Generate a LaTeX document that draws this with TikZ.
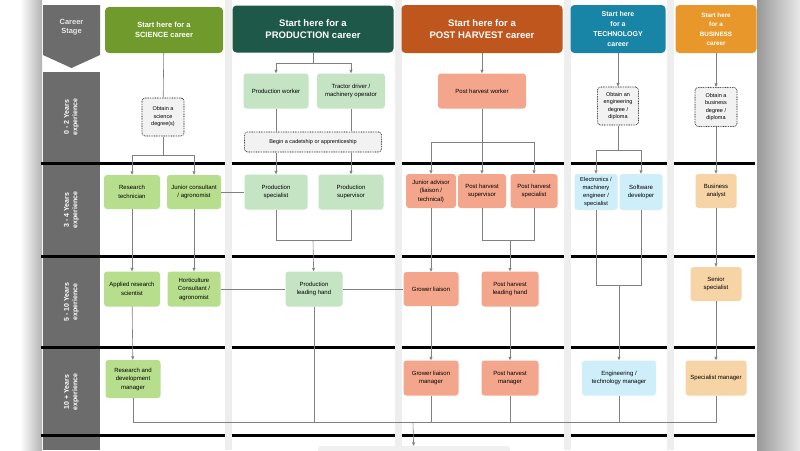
\documentclass[tikz,border=0pt]{standalone}
\usepackage{xcolor}
\usepackage{fontspec}
\setmainfont{Liberation Sans}
\usepackage{tikz}
\usetikzlibrary{arrows.meta}
\definecolor{scicolor}{RGB}{112,154,44}
\definecolor{prodcolor}{RGB}{30,88,72}
\definecolor{phcolor}{RGB}{190,86,30}
\definecolor{techcolor}{RGB}{24,132,166}
\definecolor{buscolor}{RGB}{232,152,42}
\definecolor{scifill}{RGB}{182,222,140}
\definecolor{prodfill}{RGB}{196,228,196}
\definecolor{phfill}{RGB}{244,166,140}
\definecolor{techfill}{RGB}{206,238,250}
\definecolor{busfill}{RGB}{246,212,166}
\definecolor{stagegray}{RGB}{108,108,108}
\definecolor{linegray}{RGB}{128,128,128}
\definecolor{gapgray}{RGB}{238,238,238}

\begin{document}
\begin{tikzpicture}[x=1pt, y=-1pt,
        head/.style={rounded corners=4pt, text=white, font=\bfseries, align=center, inner sep=0pt},
        job/.style={rounded corners=3pt, align=center, inner sep=0pt, font=\fontsize{6}{8.5}\selectfont},
        study/.style={job, draw=black!75, line width=1.1pt, dash pattern=on 0pt off 1.7pt, line cap=round, fill=gray!10, font=\fontsize{5.5}{7.5}\selectfont},
        link/.style={draw=linegray, line width=0.6pt},
        go/.style={link, -{Triangle[length=3.5pt,width=3pt]}},
        band/.style={line width=3pt},
        stage/.style={rotate=90, text=white, font=\fontsize{7}{8.5}\selectfont\bfseries, align=center}]
        \useasboundingbox (0,0) rectangle (800,450);
        % page and its shadow
        \fill[white] (0,0) rectangle (800,450);
        \shade[left color=white, right color=gray!60] (20,0) rectangle (42,450);
        \shade[left color=gray!80, right color=gray!18] (757,0) rectangle (800,450);
        \foreach \gx in {225,395,564,667}
            \fill[gapgray] (\gx,0) rectangle (\gx+6.5,450);

        % career stage column
        \fill[stagegray] (43,5) -- (100,5) -- (100,55) -- (71.5,68) -- (43,55) -- cycle;
        \node[text=gray!20, font=\fontsize{7.5}{9}\selectfont\bfseries, align=center] (stagehead) at (71.5,27) {Career\\Stage};
        \fill[stagegray] (43,72) rectangle (100,163);
        \fill[stagegray] (43,163) rectangle (100,256);
        \fill[stagegray] (43,256) rectangle (100,347);
        \fill[stagegray] (43,347) rectangle (100,435);
        \fill[stagegray] (43,435) rectangle (100,450);
        \node[stage] (st1) at (71.5,117) {0 - 2 Years\\experience};
        \node[stage] (st2) at (71.5,210) {3 - 4 Years\\experience};
        \node[stage] (st3) at (71.5,302) {5 - 10 Years\\experience};
        \node[stage] (st4) at (71.5,392) {10 + Years\\experience};

        \foreach \by in {163,256,347,435} {
            \draw[band] (41,\by) -- (225,\by);
            \draw[band] (231.5,\by) -- (395,\by);
            \draw[band] (401.5,\by) -- (564,\by);
            \draw[band] (570.5,\by) -- (667,\by);
            \draw[band] (673.5,\by) -- (755,\by);
        }

        % headers
        \node[head, fill=scicolor, minimum width=118, minimum height=46, font=\fontsize{7.5}{10}\selectfont\bfseries] (hsci) at (164,30) {Start here for a\\SCIENCE career};
        \node[head, fill=prodcolor, minimum width=161, minimum height=47, font=\fontsize{9.5}{12.5}\selectfont\bfseries] (hprod) at (313,29) {Start here for a\\PRODUCTION career};
        \node[head, fill=phcolor, minimum width=161, minimum height=48, font=\fontsize{9.5}{12.5}\selectfont\bfseries] (hph) at (482,29) {Start here for a\\POST HARVEST career};
        \node[head, fill=techcolor, minimum width=95, minimum height=48, font=\fontsize{7}{10}\selectfont\bfseries] (htech) at (618,29) {Start here\\for a\\TECHNOLOGY\\career};
        \node[head, fill=buscolor, minimum width=81, minimum height=48, font=\fontsize{6.3}{9.5}\selectfont\bfseries] (hbus) at (716,29) {Start here\\for a\\BUSINESS\\career};

        % science
        \node[study, minimum width=42, minimum height=38] (scideg) at (163,117) {Obtain a\\science\\degree(s)};
        \node[job, fill=scifill, minimum width=56, minimum height=34] (restech) at (132,192) {Research\\technician};
        \node[job, fill=scifill, minimum width=54, minimum height=34] (juncons) at (194,192) {Junior consultant\\/ agronomist};
        \node[job, fill=scifill, minimum width=56, minimum height=35] (appsci) at (132,289) {Applied research\\scientist};
        \node[job, fill=scifill, minimum width=53, minimum height=35] (hort) at (194,289) {Horticulture\\Consultant /\\agronomist};
        \node[job, fill=scifill, minimum width=55, minimum height=38] (rnd) at (133,379) {Research and\\development\\manager};

        % production
        \node[job, fill=prodfill, minimum width=65, minimum height=35] (prodworker) at (276,91) {Production worker};
        \node[job, fill=prodfill, minimum width=68, minimum height=35] (tractor) at (351,91) {Tractor driver /\\machinery operator};
        \node[study, minimum width=137, minimum height=20] (cadet) at (313,142) {Begin a cadetship or apprenticeship};
        \node[job, fill=prodfill, minimum width=63, minimum height=35] (prodspec) at (276,192) {Production\\specialist};
        \node[job, fill=prodfill, minimum width=65, minimum height=35] (prodsup) at (351,192) {Production\\supervisor};
        \node[job, fill=prodfill, minimum width=57, minimum height=35] (prodlead) at (314,289) {Production\\leading hand};

        % post harvest
        \node[job, fill=phfill, minimum width=88, minimum height=35] (phworker) at (482,91) {Post harvest worker};
        \node[job, fill=phfill, minimum width=50, minimum height=34] (junadv) at (431,191) {Junior advisor\\(liaison /\\technical)};
        \node[job, fill=phfill, minimum width=48, minimum height=34] (phsup) at (482,191) {Post harvest\\supervisor};
        \node[job, fill=phfill, minimum width=47, minimum height=34] (phspec) at (534,191) {Post harvest\\specialist};
        \node[job, fill=phfill, minimum width=55, minimum height=34] (grower) at (431,289) {Grower liaison};
        \node[job, fill=phfill, minimum width=57, minimum height=35] (phlead) at (510,289) {Post harvest\\leading hand};
        \node[job, fill=phfill, minimum width=55, minimum height=35] (growermgr) at (431,378) {Grower liaison\\manager};
        \node[job, fill=phfill, minimum width=57, minimum height=35] (phmgr) at (510,378) {Post harvest\\manager};

        % technology
        \node[study, minimum width=41, minimum height=38] (techdeg) at (618,106) {Obtain an\\engineering\\degree /\\diploma};
        \node[job, fill=techfill, minimum width=43, minimum height=36, font=\fontsize{5.8}{8}\selectfont] (elec) at (596,192) {Electronics /\\machinery\\engineer /\\specialist};
        \node[job, fill=techfill, minimum width=43, minimum height=36] (soft) at (641,192) {Software\\developer};
        \node[job, fill=techfill, minimum width=74, minimum height=35] (techmgr) at (619,378) {Engineering /\\technology manager};

        % business
        \node[study, minimum width=42, minimum height=39] (busdeg) at (716,107) {Obtain a\\business\\degree /\\diploma};
        \node[job, fill=busfill, minimum width=41, minimum height=34] (busan) at (716,191) {Business\\analyst};
        \node[job, fill=busfill, minimum width=51, minimum height=34] (senspec) at (716,284) {Senior\\specialist};
        \node[job, fill=busfill, minimum width=61, minimum height=35] (specmgr) at (716,378) {Specialist manager};

        \node[fill=gray!12, rounded corners=3pt, minimum width=192, minimum height=30] (next) at (414,461) {};

        \coordinate (scisplit) at (163,155);
        \coordinate (prodsplit) at (313,63);
        \coordinate (prodjoin) at (313,240);
        \coordinate (phsplit) at (482,142);
        \coordinate (phjoin) at (510,240);
        \coordinate (techsplit) at (618,150);
        \coordinate (techjoin) at (619,285);
        \coordinate (merge) at (413,422);

        % science links
        \draw[link] (hsci) -- (scideg);
        \draw[link] (scideg) -- (scisplit);
        \draw[go] (scisplit) -| (restech);
        \draw[go] (scisplit) -| (juncons);
        \draw[link] (juncons) -- (prodspec);
        \draw[go] (restech) -- (appsci);
        \draw[go] (juncons) -- (hort);
        \draw[link] (hort) -- (prodlead);
        \draw[go] (appsci) -- (rnd);

        % production links
        \draw[link] (hprod) -- (prodsplit);
        \draw[go] (prodsplit) -| (prodworker);
        \draw[go] (prodsplit) -| (tractor);
        \draw[link] (prodworker) -- (prodworker |- cadet.north);
        \draw[link] (tractor) -- (tractor |- cadet.north);
        \draw[go] (prodworker |- cadet.south) -- (prodspec);
        \draw[go] (tractor |- cadet.south) -- (prodsup);
        \draw[link] (prodspec) |- (prodjoin);
        \draw[link] (prodsup) |- (prodjoin);
        \draw[go] (prodjoin) -- (prodlead);
        \draw[link] (prodlead) -- (grower);

        % post harvest links
        \draw[go] (hph) -- (phworker);
        \draw[link] (phworker) -- (phsplit);
        \draw[go] (phsplit) -| (junadv);
        \draw[go] (phsplit) -- (phsup);
        \draw[go] (phsplit) -| (phspec);
        \draw[go] (junadv) -- (grower);
        \draw[link] (phsup) |- (phjoin);
        \draw[link] (phspec) |- (phjoin);
        \draw[go] (phjoin) -- (phlead);
        \draw[go] (grower) -- (growermgr);
        \draw[go] (phlead) -- (phmgr);

        % technology links
        \draw[go] (htech) -- (techdeg);
        \draw[link] (techdeg) -- (techsplit);
        \draw[go] (techsplit) -| (elec);
        \draw[go] (techsplit) -| (soft);
        \draw[link] (elec) |- (techjoin);
        \draw[link] (soft) |- (techjoin);
        \draw[go] (techjoin) -- (techmgr);

        % business links
        \draw[go] (hbus) -- (busdeg);
        \draw[go] (busdeg) -- (busan);
        \draw[go] (busan) -- (senspec);
        \draw[go] (senspec) -- (specmgr);

        % everything meets at the bottom
        \foreach \n in {rnd,prodlead,growermgr,phmgr,techmgr,specmgr}
            \draw[link] (\n) |- (merge);
        \draw[go] (merge) -- (next);
    \end{tikzpicture}
\end{document}
